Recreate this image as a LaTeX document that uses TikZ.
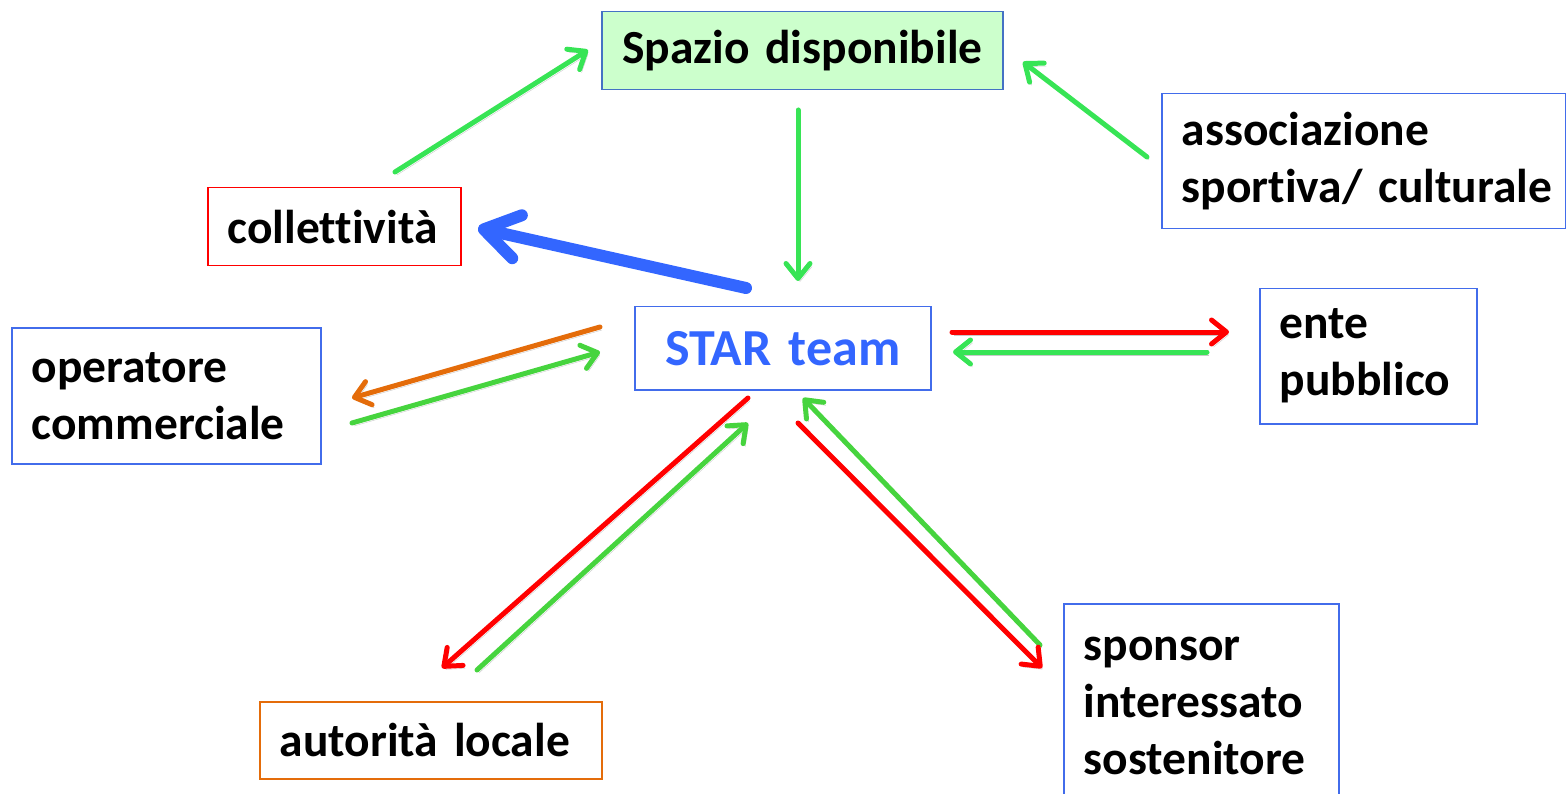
\documentclass[tikz,border=0pt]{standalone}
\usepackage{fontspec}
\setmainfont{Carlito}[Ligatures=NoCommon]
\usetikzlibrary{arrows.meta}
\definecolor{bxblue}{RGB}{66,108,235}
\definecolor{spbord}{RGB}{68,114,196}
\definecolor{spfill}{RGB}{204,255,204}
\definecolor{gA}{RGB}{55,228,85}
\definecolor{gB}{RGB}{70,212,62}
\definecolor{rd}{RGB}{255,0,0}
\definecolor{org}{RGB}{228,108,10}
\definecolor{blu}{RGB}{51,102,255}
\definecolor{shd}{RGB}{200,200,200}
\newcommand\myboxfont{\fontsize{47.5}{57}\selectfont\bfseries\spaceskip=10pt\relax}
\newcommand\mystarfont{\fontsize{52}{60}\selectfont\bfseries\spaceskip=12pt\relax}
\begin{document}
\begin{tikzpicture}[x=1pt,y=-1pt,
  box/.style={draw=bxblue, line width=1.5pt, inner xsep=20pt, inner ysep=0pt,
    align=left, anchor=north west, font=\myboxfont},
  arr/.style={line width=5pt, line cap=round, draw=#1,
    -{Straight Barb[length=15pt,width=24pt,round]},
    preaction={draw=shd, transform canvas={shift={(2,3)}}}},
  bigarr/.style={line width=12pt, line cap=round, draw=#1,
    -{Straight Barb[length=34pt,width=44pt,round]},
    preaction={draw=shd, transform canvas={shift={(3,4)}}}}
]
\useasboundingbox (0,0) rectangle (1566,794);

% boxes
\node[box, fill=spfill, draw=spbord, text width=361pt, minimum height=78pt, align=center] (sp) at (601,11) {\mbox{Spazio disponibile}\rule[-4pt]{0pt}{4pt}};
\node[box, draw=rd, text width=213pt, minimum height=78pt] (co) at (207,187) {\mbox{collettività}};
\node[box, text width=364pt, minimum height=135pt] (as) at (1161,93) {\mbox{associazione}\\\mbox{sportiva/ culturale}};
\node[box, text width=256pt, minimum height=83pt, text=blu, align=center, font=\mystarfont] (st) at (634,306) {\mbox{STAR team}};
\node[box, text width=269pt, minimum height=136pt] (op) at (11,327) {\mbox{operatore}\\\mbox{commerciale}};
\node[box, text width=177pt, minimum height=135pt] (en) at (1259,288) {\mbox{ente}\\\mbox{pubblico}};
\node[box, draw=org, text width=302pt, minimum height=77pt] (au) at (259,701) {\mbox{autorità locale}};
\node[box, text width=235pt, minimum height=205pt] (spo) at (1063,603) {\mbox{sponsor}\\\mbox{interessato}\\\mbox{sostenitore}};

% connector end points
\coordinate (a1s) at (395,172); \coordinate (a1e) at (588,50);
\coordinate (a2s) at (798,110); \coordinate (a2e) at (798,281);
\coordinate (a3s) at (1147,157); \coordinate (a3e) at (1023,62);
\coordinate (a4s) at (746,288); \coordinate (a4e) at (478,228);
\coordinate (a5s) at (600,327); \coordinate (a5e) at (352,398);
\coordinate (a6s) at (352,423); \coordinate (a6e) at (600,352);
\coordinate (a7s) at (952,332); \coordinate (a7e) at (1229,332);
\coordinate (a8s) at (1207,352); \coordinate (a8e) at (953,352);
\coordinate (a9s) at (748,398); \coordinate (a9e) at (442,668);
\coordinate (a10s) at (477,670); \coordinate (a10e) at (748,423);
\coordinate (a11s) at (1040,645); \coordinate (a11e) at (803,398);
\coordinate (a12s) at (798,423); \coordinate (a12e) at (1042,668);

\draw[arr=gA] (a1s) -- (a1e);
\draw[arr=gA] (a2s) -- (a2e);
\draw[arr=gA] (a3s) -- (a3e);
\draw[bigarr=blu] (a4s) -- (a4e);
\draw[arr=org] (a5s) -- (a5e);
\draw[arr=gB] (a6s) -- (a6e);
\draw[arr=rd] (a7s) -- (a7e);
\draw[arr=gA] (a8s) -- (a8e);
\draw[arr=rd] (a9s) -- (a9e);
\draw[arr=gB] (a10s) -- (a10e);
\draw[arr=gB] (a11s) -- (a11e);
\draw[arr=rd] (a12s) -- (a12e);
\end{tikzpicture}
\end{document}
